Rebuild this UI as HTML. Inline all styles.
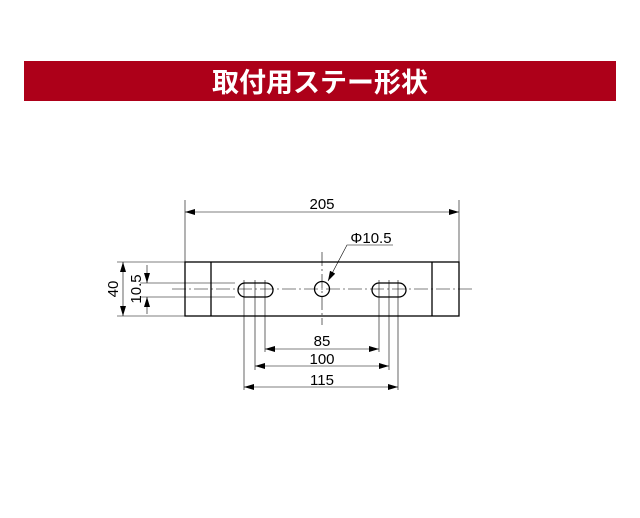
<!DOCTYPE html>
<html><head><meta charset="utf-8"><style>
body{margin:0;width:640px;height:518px;background:#fff;overflow:hidden;font-family:"Liberation Sans","Noto Sans CJK JP",sans-serif}
.b{position:absolute;left:24px;top:61px;width:592px;height:40px;background:#ad0019;color:#fff;font-size:27px;font-weight:bold;text-align:center;line-height:40px;font-family:"Noto Sans CJK JP",sans-serif}
svg{position:absolute;left:0;top:0}
</style></head><body>
<div class="b">取付用ステー形状</div>
<svg width="640" height="518" font-family="Liberation Sans, sans-serif" font-size="15" fill="none">
<defs><marker id="a" viewBox="0 0 10 6" refX="10" refY="3" markerWidth="10" markerHeight="6" orient="auto-start-reverse" markerUnits="userSpaceOnUse"><path d="M0,0L10,3L0,6z" fill="#000"/></marker></defs>
<g stroke="#000" stroke-width="0.6">
<line x1="185" y1="200" x2="185" y2="262"/><line x1="459" y1="200" x2="459" y2="262"/>
<line x1="185" y1="212" x2="459" y2="212" marker-start="url(#a)" marker-end="url(#a)"/>
<line x1="117" y1="262" x2="185" y2="262"/><line x1="117" y1="316" x2="185" y2="316"/>
<line x1="123" y1="262" x2="123" y2="316" marker-start="url(#a)" marker-end="url(#a)"/>
<line x1="140" y1="283" x2="235" y2="283"/><line x1="140" y1="297" x2="235" y2="297"/>
<line x1="147" y1="265" x2="147" y2="283" marker-end="url(#a)"/>
<line x1="147" y1="314" x2="147" y2="297" marker-end="url(#a)"/>
<line x1="172" y1="289" x2="472" y2="289" stroke-dasharray="14,3,2,3"/>
<line x1="322" y1="252" x2="322" y2="325" stroke-dasharray="14,3,2,3"/>
<line x1="244" y1="280" x2="244" y2="390"/><line x1="255" y1="280" x2="255" y2="370"/><line x1="265" y1="280" x2="265" y2="352"/>
<line x1="379" y1="280" x2="379" y2="352"/><line x1="389" y1="280" x2="389" y2="370"/><line x1="398" y1="280" x2="398" y2="390"/>
<line x1="265" y1="349" x2="379" y2="349" marker-start="url(#a)" marker-end="url(#a)"/>
<line x1="255" y1="366" x2="389" y2="366" marker-start="url(#a)" marker-end="url(#a)"/>
<line x1="244" y1="387" x2="398" y2="387" marker-start="url(#a)" marker-end="url(#a)"/>
<polyline points="393,245 347,245 328,281" marker-end="url(#a)"/>
</g>
<g stroke="#000" stroke-width="1.3">
<rect x="185" y="262" width="274" height="54"/>
<line x1="211" y1="262" x2="211" y2="316"/><line x1="432" y1="262" x2="432" y2="316"/>
<rect x="238" y="283" width="35" height="14" rx="7"/>
<rect x="372" y="283" width="34" height="14" rx="7"/>
<circle cx="322" cy="289" r="7.5"/>
</g>
<g fill="#000" stroke="none" text-anchor="middle">
<text x="322" y="209">205</text>
<text x="371" y="243">Φ10.5</text>
<text x="322" y="346">85</text>
<text x="322" y="364">100</text>
<text x="322" y="385">115</text>
<text transform="translate(118,289) rotate(-90)">40</text>
<text transform="translate(141,289) rotate(-90)">10.5</text>
</g>
</svg>
</body></html>
